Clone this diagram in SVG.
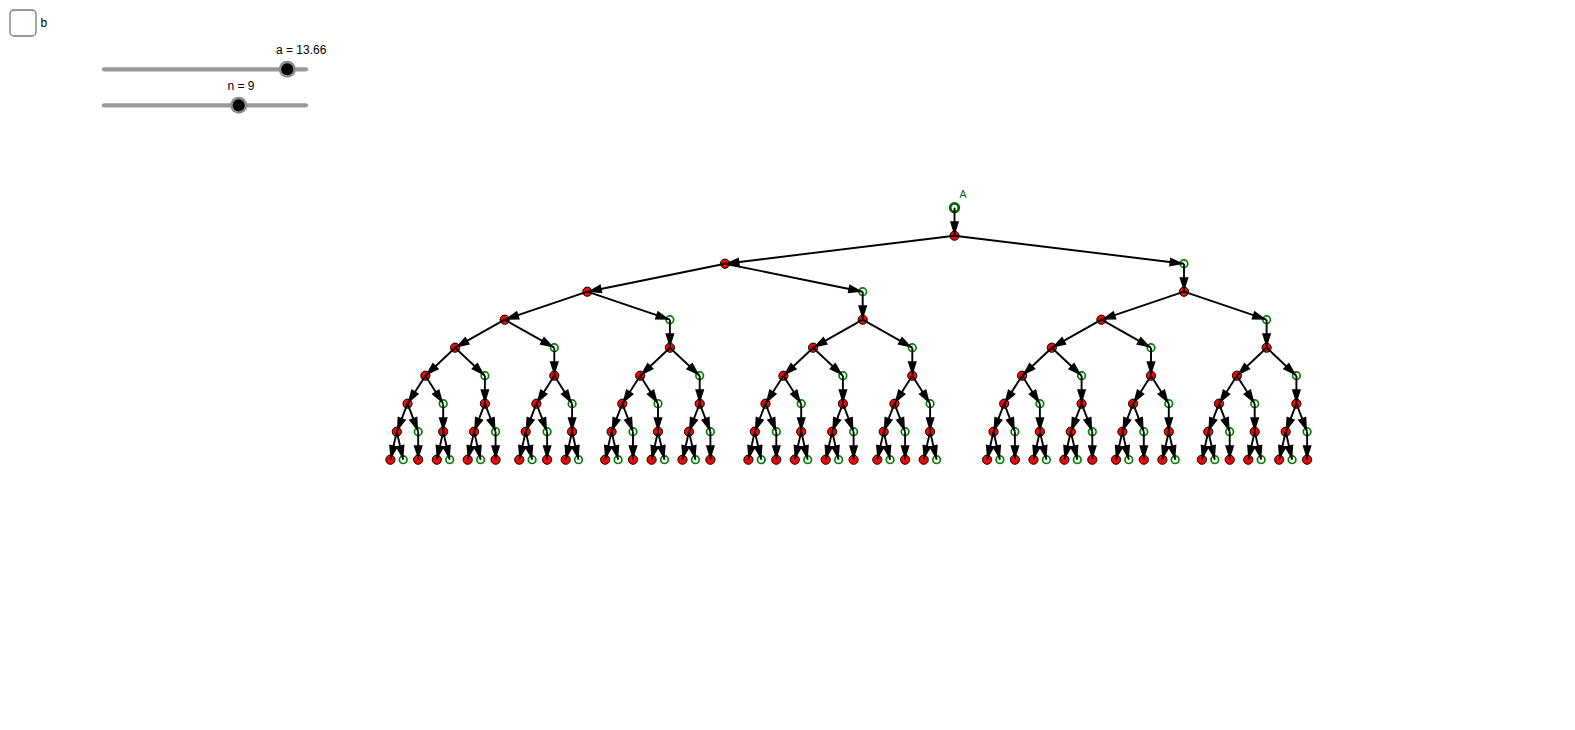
<svg xmlns="http://www.w3.org/2000/svg" width="1575" height="730" viewBox="0 0 1575 730">
<style>
.r{fill:#f00;stroke:#000;stroke-width:1}
.g{fill:#fff;stroke:#008000;stroke-width:1.7}
.t{font-family:"Liberation Sans",Arial,sans-serif;font-size:12px;fill:#000}
.track{stroke:#9a9a9a;stroke-width:4.3;stroke-linecap:round}
.halo{fill:#8c8c8c}
.knob{fill:#000}
#edges path{stroke:#000;stroke-width:1.9;fill:none;marker-end:url(#ah)}
</style>
<defs>
<marker id="ah" markerUnits="userSpaceOnUse" viewBox="-15 -5 15 10" refX="0" refY="0" markerWidth="15" markerHeight="10" orient="auto"><path d="M0 0L-14.5 -4.6L-14.5 4.6Z" fill="#000"/></marker>
</defs>
<rect width="1575" height="730" fill="#fff"/>
<g id="checkbox-b"><rect x="10" y="10" width="26" height="26" rx="4" fill="#fff" stroke="#777" stroke-width="1.3"/><text class="t" x="40.5" y="27">b</text></g>
<g id="slider-a"><line class="track" x1="104" y1="69.3" x2="306" y2="69.3"/><circle class="halo" cx="287.3" cy="69.3" r="8.5"/><circle class="knob" cx="287.3" cy="69.3" r="6"/><text class="t" x="276" y="53.5">a = 13.66</text></g>
<g id="slider-n"><line class="track" x1="104" y1="105.3" x2="306" y2="105.3"/><circle class="halo" cx="238.7" cy="105.3" r="8.5"/><circle class="knob" cx="238.7" cy="105.3" r="6"/><text class="t" x="227.5" y="89.5">n = 9</text></g>
<g id="nodes">
<g id="A"><circle cx="954.5" cy="207.7" r="4.3" fill="#fff" stroke="#006400" stroke-width="2.8"/><text x="959.5" y="197.5" font-family="Liberation Sans,Arial,sans-serif" font-size="10.5" fill="#006400">A</text></g>
<g id="n1-1"><circle class="r" cx="954.5" cy="235.7" r="4.6"/></g>
<g id="n2-1"><circle class="r" cx="725" cy="263.7" r="4.6"/></g>
<g id="n2-2"><circle class="g" cx="1184" cy="263.7" r="3.8"/></g>
<g id="n3-1"><circle class="r" cx="587.3" cy="291.7" r="4.6"/></g>
<g id="n3-2"><circle class="g" cx="862.7" cy="291.7" r="3.8"/></g>
<g id="n3-3"><circle class="r" cx="1184" cy="291.7" r="4.6"/></g>
<g id="n4-1"><circle class="r" cx="504.7" cy="319.7" r="4.6"/></g>
<g id="n4-2"><circle class="g" cx="669.9" cy="319.7" r="3.8"/></g>
<g id="n4-3"><circle class="r" cx="862.7" cy="319.7" r="4.6"/></g>
<g id="n4-4"><circle class="r" cx="1101.4" cy="319.7" r="4.6"/></g>
<g id="n4-5"><circle class="g" cx="1266.6" cy="319.7" r="3.8"/></g>
<g id="n5-1"><circle class="r" cx="455.1" cy="347.7" r="4.6"/></g>
<g id="n5-2"><circle class="g" cx="554.3" cy="347.7" r="3.8"/></g>
<g id="n5-3"><circle class="r" cx="669.9" cy="347.7" r="4.6"/></g>
<g id="n5-4"><circle class="r" cx="813.1" cy="347.7" r="4.6"/></g>
<g id="n5-5"><circle class="g" cx="912.3" cy="347.7" r="3.8"/></g>
<g id="n5-6"><circle class="r" cx="1051.8" cy="347.7" r="4.6"/></g>
<g id="n5-7"><circle class="g" cx="1151" cy="347.7" r="3.8"/></g>
<g id="n5-8"><circle class="r" cx="1266.6" cy="347.7" r="4.6"/></g>
<g id="n6-1"><circle class="r" cx="425.4" cy="375.7" r="4.6"/></g>
<g id="n6-2"><circle class="g" cx="484.9" cy="375.7" r="3.8"/></g>
<g id="n6-3"><circle class="r" cx="554.3" cy="375.7" r="4.6"/></g>
<g id="n6-4"><circle class="r" cx="640.2" cy="375.7" r="4.6"/></g>
<g id="n6-5"><circle class="g" cx="699.7" cy="375.7" r="3.8"/></g>
<g id="n6-6"><circle class="r" cx="783.4" cy="375.7" r="4.6"/></g>
<g id="n6-7"><circle class="g" cx="842.9" cy="375.7" r="3.8"/></g>
<g id="n6-8"><circle class="r" cx="912.3" cy="375.7" r="4.6"/></g>
<g id="n6-9"><circle class="r" cx="1022.1" cy="375.7" r="4.6"/></g>
<g id="n6-10"><circle class="g" cx="1081.6" cy="375.7" r="3.8"/></g>
<g id="n6-11"><circle class="r" cx="1151" cy="375.7" r="4.6"/></g>
<g id="n6-12"><circle class="r" cx="1236.9" cy="375.7" r="4.6"/></g>
<g id="n6-13"><circle class="g" cx="1296.4" cy="375.7" r="3.8"/></g>
<g id="n7-1"><circle class="r" cx="407.5" cy="403.7" r="4.6"/></g>
<g id="n7-2"><circle class="g" cx="443.2" cy="403.7" r="3.8"/></g>
<g id="n7-3"><circle class="r" cx="484.9" cy="403.7" r="4.6"/></g>
<g id="n7-4"><circle class="r" cx="536.4" cy="403.7" r="4.6"/></g>
<g id="n7-5"><circle class="g" cx="572.1" cy="403.7" r="3.8"/></g>
<g id="n7-6"><circle class="r" cx="622.3" cy="403.7" r="4.6"/></g>
<g id="n7-7"><circle class="g" cx="658" cy="403.7" r="3.8"/></g>
<g id="n7-8"><circle class="r" cx="699.7" cy="403.7" r="4.6"/></g>
<g id="n7-9"><circle class="r" cx="765.5" cy="403.7" r="4.6"/></g>
<g id="n7-10"><circle class="g" cx="801.2" cy="403.7" r="3.8"/></g>
<g id="n7-11"><circle class="r" cx="842.9" cy="403.7" r="4.6"/></g>
<g id="n7-12"><circle class="r" cx="894.4" cy="403.7" r="4.6"/></g>
<g id="n7-13"><circle class="g" cx="930.1" cy="403.7" r="3.8"/></g>
<g id="n7-14"><circle class="r" cx="1004.2" cy="403.7" r="4.6"/></g>
<g id="n7-15"><circle class="g" cx="1039.9" cy="403.7" r="3.8"/></g>
<g id="n7-16"><circle class="r" cx="1081.6" cy="403.7" r="4.6"/></g>
<g id="n7-17"><circle class="r" cx="1133.1" cy="403.7" r="4.6"/></g>
<g id="n7-18"><circle class="g" cx="1168.8" cy="403.7" r="3.8"/></g>
<g id="n7-19"><circle class="r" cx="1219" cy="403.7" r="4.6"/></g>
<g id="n7-20"><circle class="g" cx="1254.7" cy="403.7" r="3.8"/></g>
<g id="n7-21"><circle class="r" cx="1296.4" cy="403.7" r="4.6"/></g>
<g id="n8-1"><circle class="r" cx="396.8" cy="431.7" r="4.6"/></g>
<g id="n8-2"><circle class="g" cx="418.2" cy="431.7" r="3.8"/></g>
<g id="n8-3"><circle class="r" cx="443.2" cy="431.7" r="4.6"/></g>
<g id="n8-4"><circle class="r" cx="474.1" cy="431.7" r="4.6"/></g>
<g id="n8-5"><circle class="g" cx="495.6" cy="431.7" r="3.8"/></g>
<g id="n8-6"><circle class="r" cx="525.7" cy="431.7" r="4.6"/></g>
<g id="n8-7"><circle class="g" cx="547.1" cy="431.7" r="3.8"/></g>
<g id="n8-8"><circle class="r" cx="572.1" cy="431.7" r="4.6"/></g>
<g id="n8-9"><circle class="r" cx="611.6" cy="431.7" r="4.6"/></g>
<g id="n8-10"><circle class="g" cx="633" cy="431.7" r="3.8"/></g>
<g id="n8-11"><circle class="r" cx="658" cy="431.7" r="4.6"/></g>
<g id="n8-12"><circle class="r" cx="689" cy="431.7" r="4.6"/></g>
<g id="n8-13"><circle class="g" cx="710.4" cy="431.7" r="3.8"/></g>
<g id="n8-14"><circle class="r" cx="754.8" cy="431.7" r="4.6"/></g>
<g id="n8-15"><circle class="g" cx="776.3" cy="431.7" r="3.8"/></g>
<g id="n8-16"><circle class="r" cx="801.2" cy="431.7" r="4.6"/></g>
<g id="n8-17"><circle class="r" cx="832.2" cy="431.7" r="4.6"/></g>
<g id="n8-18"><circle class="g" cx="853.6" cy="431.7" r="3.8"/></g>
<g id="n8-19"><circle class="r" cx="883.7" cy="431.7" r="4.6"/></g>
<g id="n8-20"><circle class="g" cx="905.1" cy="431.7" r="3.8"/></g>
<g id="n8-21"><circle class="r" cx="930.1" cy="431.7" r="4.6"/></g>
<g id="n8-22"><circle class="r" cx="993.5" cy="431.7" r="4.6"/></g>
<g id="n8-23"><circle class="g" cx="1014.9" cy="431.7" r="3.8"/></g>
<g id="n8-24"><circle class="r" cx="1039.9" cy="431.7" r="4.6"/></g>
<g id="n8-25"><circle class="r" cx="1070.8" cy="431.7" r="4.6"/></g>
<g id="n8-26"><circle class="g" cx="1092.3" cy="431.7" r="3.8"/></g>
<g id="n8-27"><circle class="r" cx="1122.4" cy="431.7" r="4.6"/></g>
<g id="n8-28"><circle class="g" cx="1143.8" cy="431.7" r="3.8"/></g>
<g id="n8-29"><circle class="r" cx="1168.8" cy="431.7" r="4.6"/></g>
<g id="n8-30"><circle class="r" cx="1208.3" cy="431.7" r="4.6"/></g>
<g id="n8-31"><circle class="g" cx="1229.7" cy="431.7" r="3.8"/></g>
<g id="n8-32"><circle class="r" cx="1254.7" cy="431.7" r="4.6"/></g>
<g id="n8-33"><circle class="r" cx="1285.7" cy="431.7" r="4.6"/></g>
<g id="n8-34"><circle class="g" cx="1307.1" cy="431.7" r="3.8"/></g>
<g id="n9-1"><circle class="r" cx="390.4" cy="459.7" r="4.6"/></g>
<g id="n9-2"><circle class="g" cx="403.2" cy="459.7" r="3.8"/></g>
<g id="n9-3"><circle class="r" cx="418.2" cy="459.7" r="4.6"/></g>
<g id="n9-4"><circle class="r" cx="436.8" cy="459.7" r="4.6"/></g>
<g id="n9-5"><circle class="g" cx="449.7" cy="459.7" r="3.8"/></g>
<g id="n9-6"><circle class="r" cx="467.7" cy="459.7" r="4.6"/></g>
<g id="n9-7"><circle class="g" cx="480.6" cy="459.7" r="3.8"/></g>
<g id="n9-8"><circle class="r" cx="495.6" cy="459.7" r="4.6"/></g>
<g id="n9-9"><circle class="r" cx="519.3" cy="459.7" r="4.6"/></g>
<g id="n9-10"><circle class="g" cx="532.1" cy="459.7" r="3.8"/></g>
<g id="n9-11"><circle class="r" cx="547.1" cy="459.7" r="4.6"/></g>
<g id="n9-12"><circle class="r" cx="565.7" cy="459.7" r="4.6"/></g>
<g id="n9-13"><circle class="g" cx="578.5" cy="459.7" r="3.8"/></g>
<g id="n9-14"><circle class="r" cx="605.2" cy="459.7" r="4.6"/></g>
<g id="n9-15"><circle class="g" cx="618.1" cy="459.7" r="3.8"/></g>
<g id="n9-16"><circle class="r" cx="633" cy="459.7" r="4.6"/></g>
<g id="n9-17"><circle class="r" cx="651.6" cy="459.7" r="4.6"/></g>
<g id="n9-18"><circle class="g" cx="664.5" cy="459.7" r="3.8"/></g>
<g id="n9-19"><circle class="r" cx="682.5" cy="459.7" r="4.6"/></g>
<g id="n9-20"><circle class="g" cx="695.4" cy="459.7" r="3.8"/></g>
<g id="n9-21"><circle class="r" cx="710.4" cy="459.7" r="4.6"/></g>
<g id="n9-22"><circle class="r" cx="748.4" cy="459.7" r="4.6"/></g>
<g id="n9-23"><circle class="g" cx="761.3" cy="459.7" r="3.8"/></g>
<g id="n9-24"><circle class="r" cx="776.3" cy="459.7" r="4.6"/></g>
<g id="n9-25"><circle class="r" cx="794.8" cy="459.7" r="4.6"/></g>
<g id="n9-26"><circle class="g" cx="807.7" cy="459.7" r="3.8"/></g>
<g id="n9-27"><circle class="r" cx="825.7" cy="459.7" r="4.6"/></g>
<g id="n9-28"><circle class="g" cx="838.6" cy="459.7" r="3.8"/></g>
<g id="n9-29"><circle class="r" cx="853.6" cy="459.7" r="4.6"/></g>
<g id="n9-30"><circle class="r" cx="877.3" cy="459.7" r="4.6"/></g>
<g id="n9-31"><circle class="g" cx="890.1" cy="459.7" r="3.8"/></g>
<g id="n9-32"><circle class="r" cx="905.1" cy="459.7" r="4.6"/></g>
<g id="n9-33"><circle class="r" cx="923.7" cy="459.7" r="4.6"/></g>
<g id="n9-34"><circle class="g" cx="936.6" cy="459.7" r="3.8"/></g>
<g id="n9-35"><circle class="r" cx="987.1" cy="459.7" r="4.6"/></g>
<g id="n9-36"><circle class="g" cx="999.9" cy="459.7" r="3.8"/></g>
<g id="n9-37"><circle class="r" cx="1014.9" cy="459.7" r="4.6"/></g>
<g id="n9-38"><circle class="r" cx="1033.5" cy="459.7" r="4.6"/></g>
<g id="n9-39"><circle class="g" cx="1046.4" cy="459.7" r="3.8"/></g>
<g id="n9-40"><circle class="r" cx="1064.4" cy="459.7" r="4.6"/></g>
<g id="n9-41"><circle class="g" cx="1077.3" cy="459.7" r="3.8"/></g>
<g id="n9-42"><circle class="r" cx="1092.3" cy="459.7" r="4.6"/></g>
<g id="n9-43"><circle class="r" cx="1116" cy="459.7" r="4.6"/></g>
<g id="n9-44"><circle class="g" cx="1128.8" cy="459.7" r="3.8"/></g>
<g id="n9-45"><circle class="r" cx="1143.8" cy="459.7" r="4.6"/></g>
<g id="n9-46"><circle class="r" cx="1162.4" cy="459.7" r="4.6"/></g>
<g id="n9-47"><circle class="g" cx="1175.2" cy="459.7" r="3.8"/></g>
<g id="n9-48"><circle class="r" cx="1201.9" cy="459.7" r="4.6"/></g>
<g id="n9-49"><circle class="g" cx="1214.8" cy="459.7" r="3.8"/></g>
<g id="n9-50"><circle class="r" cx="1229.7" cy="459.7" r="4.6"/></g>
<g id="n9-51"><circle class="r" cx="1248.3" cy="459.7" r="4.6"/></g>
<g id="n9-52"><circle class="g" cx="1261.2" cy="459.7" r="3.8"/></g>
<g id="n9-53"><circle class="r" cx="1279.2" cy="459.7" r="4.6"/></g>
<g id="n9-54"><circle class="g" cx="1292.1" cy="459.7" r="3.8"/></g>
<g id="n9-55"><circle class="r" cx="1307.1" cy="459.7" r="4.6"/></g>
</g>
<g id="edges">
<path d="M954.5 207.7L954.5 235.7"/>
<path d="M954.5 235.7L725 263.7"/><path d="M954.5 235.7L1184 263.7"/>
<path d="M725 263.7L587.3 291.7"/><path d="M725 263.7L862.7 291.7"/><path d="M1184 263.7L1184 291.7"/>
<path d="M587.3 291.7L504.7 319.7"/><path d="M587.3 291.7L669.9 319.7"/><path d="M862.7 291.7L862.7 319.7"/><path d="M1184 291.7L1101.4 319.7"/><path d="M1184 291.7L1266.6 319.7"/>
<path d="M504.7 319.7L455.1 347.7"/><path d="M504.7 319.7L554.3 347.7"/><path d="M669.9 319.7L669.9 347.7"/><path d="M862.7 319.7L813.1 347.7"/><path d="M862.7 319.7L912.3 347.7"/><path d="M1101.4 319.7L1051.8 347.7"/><path d="M1101.4 319.7L1151 347.7"/><path d="M1266.6 319.7L1266.6 347.7"/>
<path d="M455.1 347.7L425.4 375.7"/><path d="M455.1 347.7L484.9 375.7"/><path d="M554.3 347.7L554.3 375.7"/><path d="M669.9 347.7L640.2 375.7"/><path d="M669.9 347.7L699.7 375.7"/><path d="M813.1 347.7L783.4 375.7"/><path d="M813.1 347.7L842.9 375.7"/><path d="M912.3 347.7L912.3 375.7"/><path d="M1051.8 347.7L1022.1 375.7"/><path d="M1051.8 347.7L1081.6 375.7"/><path d="M1151 347.7L1151 375.7"/><path d="M1266.6 347.7L1236.9 375.7"/><path d="M1266.6 347.7L1296.4 375.7"/>
<path d="M425.4 375.7L407.5 403.7"/><path d="M425.4 375.7L443.2 403.7"/><path d="M484.9 375.7L484.9 403.7"/><path d="M554.3 375.7L536.4 403.7"/><path d="M554.3 375.7L572.1 403.7"/><path d="M640.2 375.7L622.3 403.7"/><path d="M640.2 375.7L658 403.7"/><path d="M699.7 375.7L699.7 403.7"/><path d="M783.4 375.7L765.5 403.7"/><path d="M783.4 375.7L801.2 403.7"/><path d="M842.9 375.7L842.9 403.7"/><path d="M912.3 375.7L894.4 403.7"/><path d="M912.3 375.7L930.1 403.7"/><path d="M1022.1 375.7L1004.2 403.7"/><path d="M1022.1 375.7L1039.9 403.7"/><path d="M1081.6 375.7L1081.6 403.7"/><path d="M1151 375.7L1133.1 403.7"/><path d="M1151 375.7L1168.8 403.7"/><path d="M1236.9 375.7L1219 403.7"/><path d="M1236.9 375.7L1254.7 403.7"/><path d="M1296.4 375.7L1296.4 403.7"/>
<path d="M407.5 403.7L396.8 431.7"/><path d="M407.5 403.7L418.2 431.7"/><path d="M443.2 403.7L443.2 431.7"/><path d="M484.9 403.7L474.1 431.7"/><path d="M484.9 403.7L495.6 431.7"/><path d="M536.4 403.7L525.7 431.7"/><path d="M536.4 403.7L547.1 431.7"/><path d="M572.1 403.7L572.1 431.7"/><path d="M622.3 403.7L611.6 431.7"/><path d="M622.3 403.7L633 431.7"/><path d="M658 403.7L658 431.7"/><path d="M699.7 403.7L689 431.7"/><path d="M699.7 403.7L710.4 431.7"/><path d="M765.5 403.7L754.8 431.7"/><path d="M765.5 403.7L776.3 431.7"/><path d="M801.2 403.7L801.2 431.7"/><path d="M842.9 403.7L832.2 431.7"/><path d="M842.9 403.7L853.6 431.7"/><path d="M894.4 403.7L883.7 431.7"/><path d="M894.4 403.7L905.1 431.7"/><path d="M930.1 403.7L930.1 431.7"/><path d="M1004.2 403.7L993.5 431.7"/><path d="M1004.2 403.7L1014.9 431.7"/><path d="M1039.9 403.7L1039.9 431.7"/><path d="M1081.6 403.7L1070.8 431.7"/><path d="M1081.6 403.7L1092.3 431.7"/><path d="M1133.1 403.7L1122.4 431.7"/><path d="M1133.1 403.7L1143.8 431.7"/><path d="M1168.8 403.7L1168.8 431.7"/><path d="M1219 403.7L1208.3 431.7"/><path d="M1219 403.7L1229.7 431.7"/><path d="M1254.7 403.7L1254.7 431.7"/><path d="M1296.4 403.7L1285.7 431.7"/><path d="M1296.4 403.7L1307.1 431.7"/>
<path d="M396.8 431.7L390.4 459.7"/><path d="M396.8 431.7L403.2 459.7"/><path d="M418.2 431.7L418.2 459.7"/><path d="M443.2 431.7L436.8 459.7"/><path d="M443.2 431.7L449.7 459.7"/><path d="M474.1 431.7L467.7 459.7"/><path d="M474.1 431.7L480.6 459.7"/><path d="M495.6 431.7L495.6 459.7"/><path d="M525.7 431.7L519.3 459.7"/><path d="M525.7 431.7L532.1 459.7"/><path d="M547.1 431.7L547.1 459.7"/><path d="M572.1 431.7L565.7 459.7"/><path d="M572.1 431.7L578.5 459.7"/><path d="M611.6 431.7L605.2 459.7"/><path d="M611.6 431.7L618.1 459.7"/><path d="M633 431.7L633 459.7"/><path d="M658 431.7L651.6 459.7"/><path d="M658 431.7L664.5 459.7"/><path d="M689 431.7L682.5 459.7"/><path d="M689 431.7L695.4 459.7"/><path d="M710.4 431.7L710.4 459.7"/><path d="M754.8 431.7L748.4 459.7"/><path d="M754.8 431.7L761.3 459.7"/><path d="M776.3 431.7L776.3 459.7"/><path d="M801.2 431.7L794.8 459.7"/><path d="M801.2 431.7L807.7 459.7"/><path d="M832.2 431.7L825.7 459.7"/><path d="M832.2 431.7L838.6 459.7"/><path d="M853.6 431.7L853.6 459.7"/><path d="M883.7 431.7L877.3 459.7"/><path d="M883.7 431.7L890.1 459.7"/><path d="M905.1 431.7L905.1 459.7"/><path d="M930.1 431.7L923.7 459.7"/><path d="M930.1 431.7L936.6 459.7"/><path d="M993.5 431.7L987.1 459.7"/><path d="M993.5 431.7L999.9 459.7"/><path d="M1014.9 431.7L1014.9 459.7"/><path d="M1039.9 431.7L1033.5 459.7"/><path d="M1039.9 431.7L1046.4 459.7"/><path d="M1070.8 431.7L1064.4 459.7"/><path d="M1070.8 431.7L1077.3 459.7"/><path d="M1092.3 431.7L1092.3 459.7"/><path d="M1122.4 431.7L1116 459.7"/><path d="M1122.4 431.7L1128.8 459.7"/><path d="M1143.8 431.7L1143.8 459.7"/><path d="M1168.8 431.7L1162.4 459.7"/><path d="M1168.8 431.7L1175.2 459.7"/><path d="M1208.3 431.7L1201.9 459.7"/><path d="M1208.3 431.7L1214.8 459.7"/><path d="M1229.7 431.7L1229.7 459.7"/><path d="M1254.7 431.7L1248.3 459.7"/><path d="M1254.7 431.7L1261.2 459.7"/><path d="M1285.7 431.7L1279.2 459.7"/><path d="M1285.7 431.7L1292.1 459.7"/><path d="M1307.1 431.7L1307.1 459.7"/>
</g>
</svg>
